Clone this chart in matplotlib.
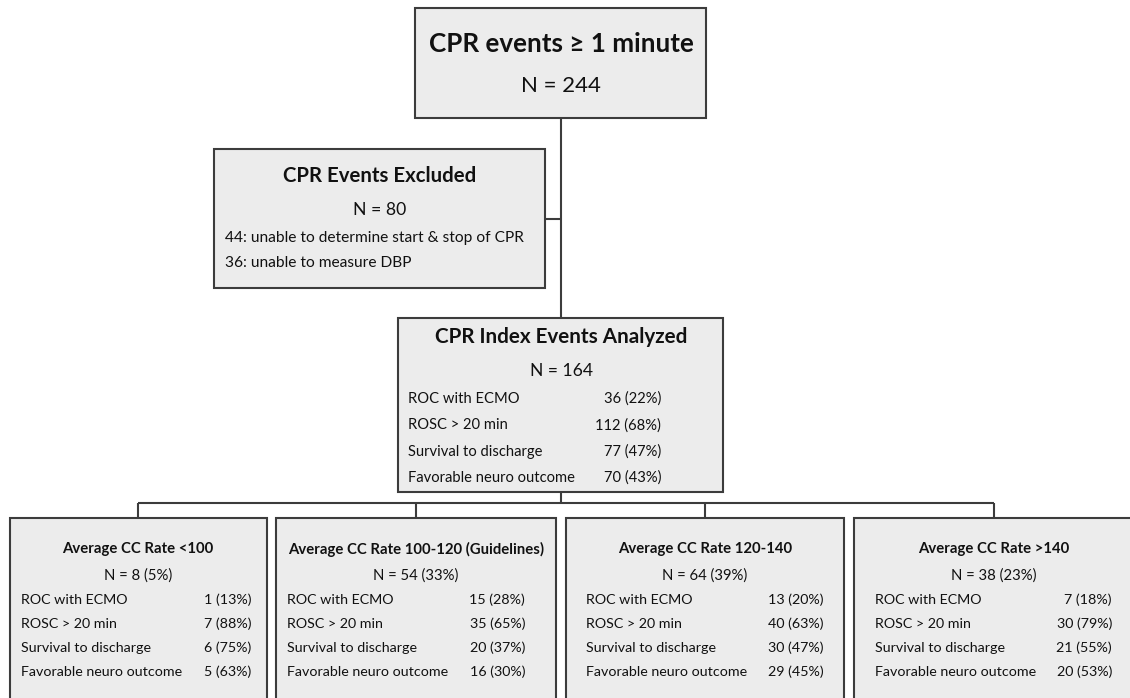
"""Flowchart of CPR events by average chest compression rate."""

import matplotlib.pyplot as plt
from matplotlib.patches import Rectangle

plt.rcParams["font.family"] = ["Lato", "DejaVu Sans"]

# ---- data -------------------------------------------------------------
total_n = 244
excluded_n = 80
excluded_reasons = ["44: unable to determine start & stop of CPR",
                    "36: unable to measure DBP"]
analyzed_n = 164

outcome_labels = ["ROC with ECMO", "ROSC > 20 min",
                  "Survival to discharge", "Favorable neuro outcome"]
analyzed_counts = [36, 112, 77, 70]
analyzed_pcts = [22, 68, 47, 43]

group_titles = ["Average CC Rate <100",
                "Average CC Rate 100-120 (Guidelines)",
                "Average CC Rate 120-140",
                "Average CC Rate >140"]
group_n = [8, 54, 64, 38]
group_n_pct = [5, 33, 39, 23]
group_counts = [[1, 7, 6, 5], [15, 35, 20, 16], [13, 40, 30, 29], [7, 30, 21, 20]]
group_pcts = [[13, 88, 75, 63], [28, 65, 37, 30], [20, 63, 47, 45], [18, 79, 55, 53]]

# ---- layout (pixel coordinates, y downwards) --------------------------
EDGE = "#3c3c3c"
FILL = "#ececec"
TXT = "#111111"
LW = 1.5

fig = plt.figure(figsize=(11.3, 6.98), dpi=100)
ax = fig.add_axes([0, 0, 1, 1])
ax.set_xlim(0, 1130)
ax.set_ylim(698, 0)
ax.axis("off")


def box(x0, y0, x1, y1):
    ax.add_patch(Rectangle((x0, y0), x1 - x0, y1 - y0, facecolor=FILL,
                           edgecolor=EDGE, lw=LW, zorder=2, clip_on=False))


def line(xs, ys):
    ax.plot(xs, ys, color=EDGE, lw=LW, zorder=1, solid_capstyle="butt")


def txt(x, y, s, size, ha="center", bold=False):
    ax.text(x, y, s, ha=ha, va="center", fontsize=size, color=TXT,
            fontweight="bold" if bold else "normal", zorder=3)


# connectors
line([561, 561], [118, 318])
line([545, 561], [219, 219])
line([561, 561], [492, 503])
line([138, 994], [503, 503])
drop_x = [138, 416, 705, 994]
for dx in drop_x:
    line([dx, dx], [503, 518])

# top box
box(415, 8, 706, 118)
txt(561, 44, "CPR events \u2265 1 minute", 18.7, bold=True)
txt(561, 86, f"N = {total_n}", 16)

# excluded box
box(214, 149, 545, 288)
txt(380, 176, "CPR Events Excluded", 14.7, bold=True)
txt(380, 210, f"N = {excluded_n}", 12.7)
for i, reason in enumerate(excluded_reasons):
    txt(225, 238 + 25 * i, reason, 11.2, ha="left")

# analyzed box
box(398, 318, 723, 492)
txt(561, 337, "CPR Index Events Analyzed", 14.9, bold=True)
txt(561, 371, f"N = {analyzed_n}", 12.6)
for i, lab in enumerate(outcome_labels):
    y = 399 + 26.3 * i
    txt(408, y, lab, 10.6, ha="left")
    txt(661, y, f"{analyzed_counts[i]} ({analyzed_pcts[i]}%)", 10.6, ha="right")

# group boxes
box_l = [10, 276, 566, 854]
box_r = [267, 556, 844, 1134]
lab_x = [21, 287, 586, 875]
val_x = [251, 525, 824, 1112]
for g in range(len(group_titles)):
    box(box_l[g], 518, box_r[g], 720)
    cx = drop_x[g]
    txt(cx, 549, group_titles[g], 10.7, bold=True)
    txt(cx, 576, f"N = {group_n[g]} ({group_n_pct[g]}%)", 10.7)
    for i, lab in enumerate(outcome_labels):
        y = 600 + 24 * i
        txt(lab_x[g], y, lab, 10.3, ha="left")
        txt(val_x[g], y, f"{group_counts[g][i]} ({group_pcts[g][i]}%)", 10.3,
            ha="right")

fig.savefig("out.png", dpi=100)
plt.close(fig)
